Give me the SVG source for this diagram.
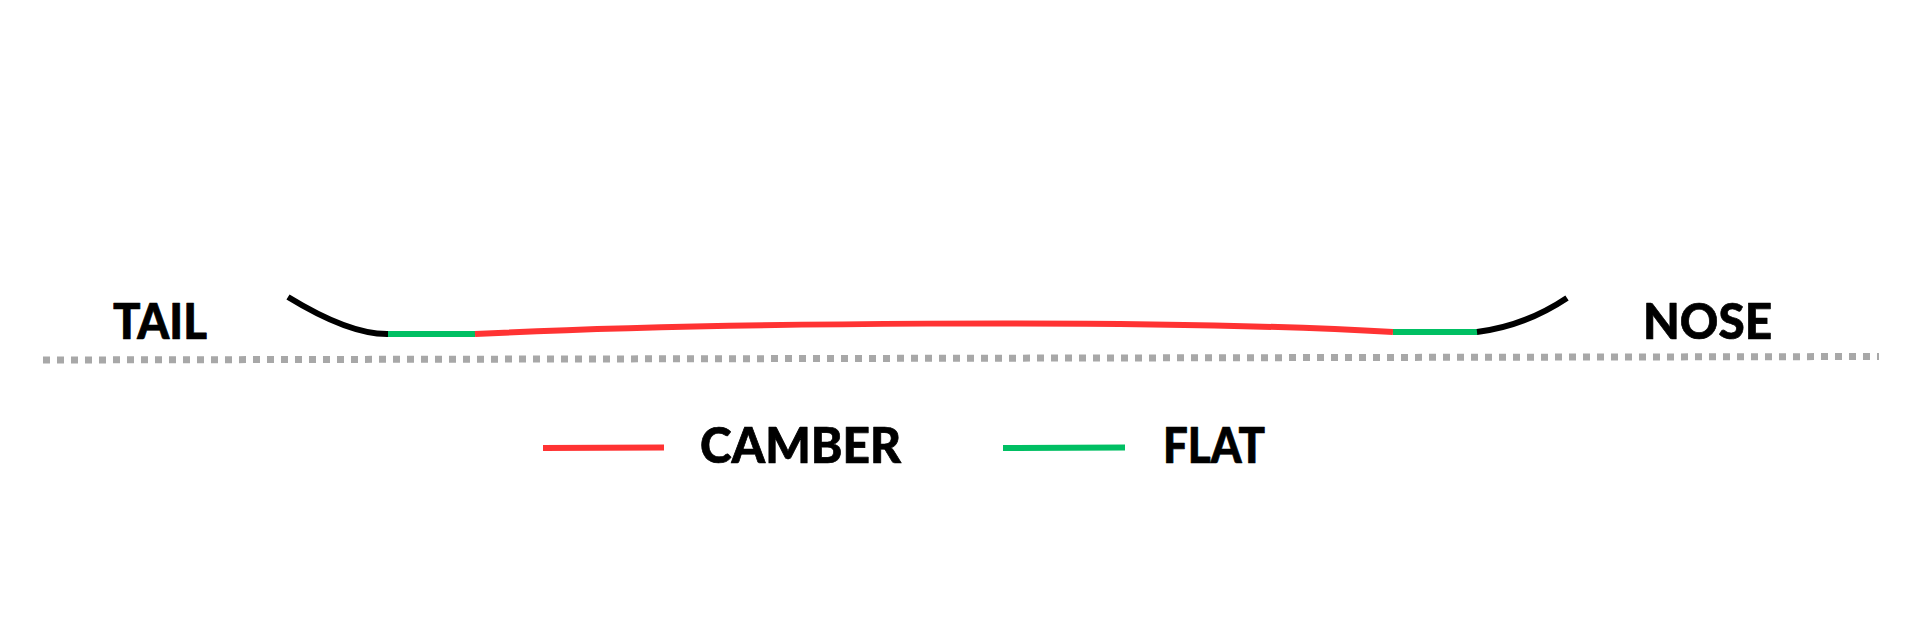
<svg xmlns="http://www.w3.org/2000/svg" width="1920" height="621" viewBox="0 0 1920 621">
  <style>
    .lbl { font-family: Lato, "Liberation Sans", Arial, sans-serif; font-weight: 900; font-size: 49px; fill: #000; stroke: #000; stroke-width: 0.7; stroke-linejoin: round; }
    .seg { fill: none; stroke-width: 6; stroke-linecap: butt; }
    .tip { stroke: #000; }
    .camber { stroke: #FF3333; }
    .flat { stroke: #00BF63; }
    .ground { fill: none; stroke: #A8A8A8; stroke-width: 7; stroke-dasharray: 7 7; }
  </style>
  <rect width="1920" height="621" fill="#FFFFFF"/>

  <g id="ground">
    <line class="ground" x1="43" y1="360" x2="1879" y2="356.5"/>
  </g>

  <g id="profile">
    <path class="seg tip" d="M288,297 Q350,335 389,334"/>
    <line class="seg flat" x1="388" y1="334" x2="475" y2="334"/>
    <path class="seg camber" d="M475,334 C700,323 1150,318 1393,332"/>
    <line class="seg flat" x1="1393" y1="332" x2="1478" y2="332"/>
    <path class="seg tip" d="M1477,332 Q1525,326 1567,298"/>
  </g>

  <g id="tail-label">
    <text class="lbl" x="113" y="339" textLength="94" lengthAdjust="spacingAndGlyphs">TAIL</text>
  </g>
  <g id="nose-label">
    <text class="lbl" x="1643" y="339" textLength="129" lengthAdjust="spacingAndGlyphs">NOSE</text>
  </g>

  <g id="legend-camber">
    <line class="seg camber" x1="543" y1="448" x2="664" y2="447.5"/>
    <text class="lbl" x="700" y="463" textLength="201" lengthAdjust="spacingAndGlyphs">CAMBER</text>
  </g>
  <g id="legend-flat">
    <line class="seg flat" x1="1003" y1="448" x2="1125" y2="447.5"/>
    <text class="lbl" x="1163" y="463" textLength="102" lengthAdjust="spacingAndGlyphs">FLAT</text>
  </g>
</svg>
